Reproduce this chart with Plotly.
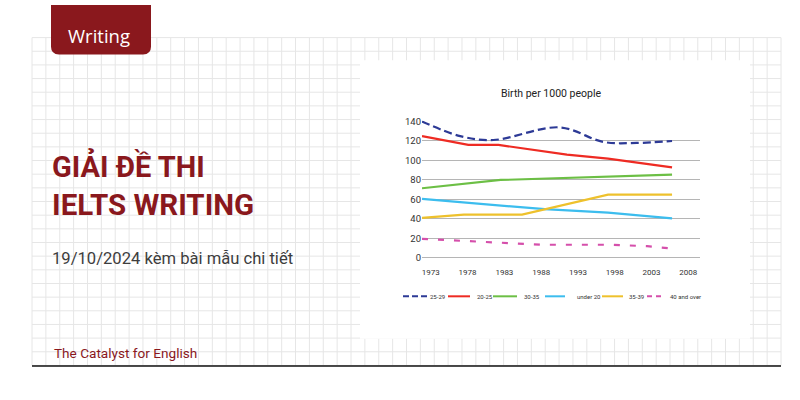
import plotly.graph_objects as go

W, H = 800, 400

# ---------------- data ----------------
x_25_29 = [1971.8, 1977.0, 1981.5, 1990.5, 1996.5, 2001.0, 2005.8]
y_25_29 = [140, 125, 121, 134, 119, 118, 120]

x_20_25 = [1971.8, 1978.1, 1982.2, 1991.5, 1997.1, 2005.8]
y_20_25 = [125, 116, 116, 106, 102, 93]

x_30_35 = [1971.8, 1982.5, 2005.8]
y_30_35 = [71.5, 80, 85.5]

x_under20 = [1971.8, 1988.5, 1997.1, 2005.8]
y_under20 = [60.5, 50, 46.5, 40.5]

x_35_39 = [1971.8, 1977.5, 1985.4, 1997.1, 2005.8]
y_35_39 = [41, 44.5, 44.5, 65, 65]

x_40_over = [1971.8, 1978.1, 1982.8, 1988.3, 1997.8, 2002.4, 2005.3]
y_40_over = [19.5, 17.5, 15.5, 13.5, 13.5, 12, 10]

series_names = ["25-29", "20-25", "30-35", "under 20", "35-39", "40 and over"]
x_tick_years = [1973, 1978, 1983, 1988, 1993, 1998, 2003, 2008]
y_tick_vals = [0, 20, 40, 60, 80, 100, 120, 140]

chart_title = "Birth per 1000 people"
tab_text = "Writing"
headline_1 = "GIẢI ĐỀ THI"
headline_2 = "IELTS WRITING"
subtitle = "19/10/2024 kèm bài mẫu chi tiết"
tagline = "The Catalyst for English"

# ---------------- styles ----------------
RED_DARK = "#8a181d"
colors = ["#2d3a96", "#ee2b23", "#6cbf45", "#3cbdee", "#eec12c", "#d54fab"]
dashes = ["8px,4px", "solid", "solid", "solid", "solid", "6px,10px"]
legend_dashes = ["6px,3px", "solid", "solid", "solid", "solid", "5px,4px"]
series_x = [x_25_29, x_20_25, x_30_35, x_under20, x_35_39, x_40_over]
series_y = [y_25_29, y_20_25, y_30_35, y_under20, y_35_39, y_40_over]
shapes_kind = ["spline", "linear", "linear", "linear", "linear", "linear"]


def px(x):
    return x / W


def py(y):
    return 1 - y / H


fig = go.Figure()
for name, xs, ys, c, d, s in zip(series_names, series_x, series_y, colors, dashes, shapes_kind):
    fig.add_trace(go.Scatter(
        x=xs, y=ys, name=name, mode="lines",
        line=dict(color=c, width=2.2, dash=d, shape=s, smoothing=1.0),
        hoverinfo="skip", showlegend=False,
    ))

shapes = []
# background grid paper
gx0, gx1, gy0, gy1 = 32, 781, 33, 365
nx, ny = 54, 24
for i in range(nx + 1):
    x = gx0 + (gx1 - gx0) * i / nx
    shapes.append(dict(type="line", xref="paper", yref="paper", layer="below",
                       x0=px(x), x1=px(x), y0=py(gy0), y1=py(gy1),
                       line=dict(color="#e6e6e6", width=1)))
for j in range(ny + 1):
    y = gy0 + (gy1 - gy0) * j / ny
    shapes.append(dict(type="line", xref="paper", yref="paper", layer="below",
                       x0=px(gx0), x1=px(gx1), y0=py(y), y1=py(y),
                       line=dict(color="#e6e6e6", width=1)))
# white chart panel
shapes.append(dict(type="rect", xref="paper", yref="paper", layer="below",
                   x0=px(360), x1=px(750), y0=py(56), y1=py(338),
                   fillcolor="white", line=dict(width=0)))
# red tab
r = 8
tx0, tx1, ty0, ty1 = 51, 151, 0, 50
path = (f"M {px(tx0)},{py(ty0)} L {px(tx0)},{py(ty1 - r)} "
        f"Q {px(tx0)},{py(ty1)} {px(tx0 + r)},{py(ty1)} "
        f"L {px(tx1 - r)},{py(ty1)} Q {px(tx1)},{py(ty1)} {px(tx1)},{py(ty1 - r)} "
        f"L {px(tx1)},{py(ty0)} Z")
shapes.append(dict(type="path", xref="paper", yref="paper", layer="below",
                   path=path, fillcolor=RED_DARK, line=dict(width=0)))
# bottom black rule
shapes.append(dict(type="line", xref="paper", yref="paper", layer="above",
                   x0=px(32), x1=px(781), y0=py(365.5), y1=py(365.5),
                   line=dict(color="#111111", width=1.6)))

annotations = []
# legend (drawn manually, compact like the original)
leg_y = 295
leg_line_x = [(403, 427), (448, 470), (493, 517), (545, 565), (602, 623), (647, 664)]
leg_text_x = [428, 475, 522, 575, 627, 668]
for name, c, d, (a, b), t in zip(series_names, colors, legend_dashes, leg_line_x, leg_text_x):
    shapes.append(dict(type="line", xref="paper", yref="paper", layer="above",
                       x0=px(a), x1=px(b), y0=py(leg_y), y1=py(leg_y),
                       line=dict(color=c, width=2, dash=d)))
    annotations.append(dict(xref="paper", yref="paper", x=px(t), y=py(leg_y),
                            xanchor="left", yanchor="middle", showarrow=False,
                            text=name, font=dict(family="Roboto", size=6, color="#333333")))

# page texts
annotations += [
    dict(xref="paper", yref="paper", x=px(66), y=py(30.5), xanchor="left", yanchor="middle",
         showarrow=False, text=tab_text,
         font=dict(family="Open Sans", size=18.5, color="white")),
    dict(xref="paper", yref="paper", x=px(50), y=py(163), xanchor="left", yanchor="middle",
         showarrow=False, text=f"<b>{headline_1}</b>",
         font=dict(family="Roboto", size=29, color=RED_DARK)),
    dict(xref="paper", yref="paper", x=px(50), y=py(203), xanchor="left", yanchor="middle",
         showarrow=False, text=f"<b>{headline_2}</b>",
         font=dict(family="Roboto", size=29.5, color=RED_DARK)),
    dict(xref="paper", yref="paper", x=px(50), y=py(257), xanchor="left", yanchor="middle",
         showarrow=False, text=subtitle,
         font=dict(family="Roboto", size=16.6, color="#3d3d3d")),
    dict(xref="paper", yref="paper", x=px(52), y=py(352.5), xanchor="left", yanchor="middle",
         showarrow=False, text=tagline,
         font=dict(family="Roboto", size=13.6, color=RED_DARK)),
]

fig.update_layout(
    width=W, height=H,
    margin=dict(l=0, r=0, t=0, b=0),
    paper_bgcolor="white", plot_bgcolor="rgba(0,0,0,0)",
    showlegend=False,
    title=dict(text=chart_title, x=px(551), y=py(89), xanchor="center", yanchor="middle",
               xref="paper", yref="paper",
               font=dict(family="Roboto", size=10.5, color="#222222")),
    shapes=shapes, annotations=annotations,
    xaxis=dict(domain=[px(422), px(700)], range=[1971.8, 2009.6],
               tickmode="array", tickvals=x_tick_years, ticktext=[str(v) for v in x_tick_years],
               showgrid=False, zeroline=False, showline=False, ticks="",
               tickfont=dict(family="Roboto", size=8, color="#333333"), fixedrange=True),
    yaxis=dict(domain=[py(264), py(117)], range=[-8, 141],
               tickmode="array", tickvals=y_tick_vals,
               showgrid=True, gridcolor="#b5b5b5", gridwidth=1.4,
               zeroline=False, showline=False, ticks="",
               tickfont=dict(family="Roboto", size=9.5, color="#333333"), fixedrange=True),
)

fig.write_html("out.html", config={"displayModeBar": False},
               post_script="document.body.style.margin='0';")
